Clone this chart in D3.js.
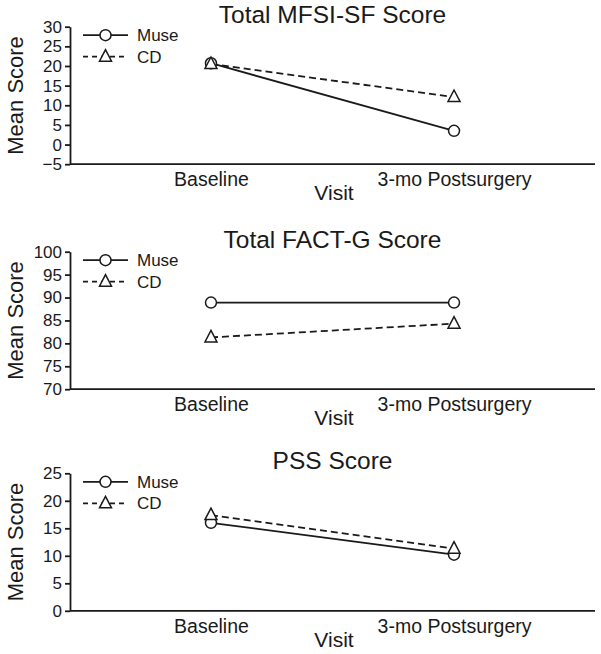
<!DOCTYPE html>
<html>
<head>
<meta charset="utf-8">
<script src="https://cdn.jsdelivr.net/npm/d3@7"></script>
<style>
	body { margin: 0; background: #fff; }
	svg text { font-family: 'Liberation Sans', Arial, sans-serif; fill: #1a1a1a; }
	.domain, .tick line { stroke: #1a1a1a; stroke-width: 1.8; }
</style>
</head>
<body>
<svg id="chart"></svg>
<script>
const visits = ['Baseline', '3-mo Postsurgery']
const seriesNames = ['Muse', 'CD']

const mfsiMuse = [20.7, 3.5]
const mfsiCD = [20.5, 12.1]
const mfsiTicks = [-5, 0, 5, 10, 15, 20, 25, 30]

const factMuse = [88.9, 88.9]
const factCD = [81.3, 84.3]
const factTicks = [70, 75, 80, 85, 90, 95, 100]

const pssMuse = [16.0, 10.2]
const pssCD = [17.4, 11.3]
const pssTicks = [0, 5, 10, 15, 20, 25]

const panels = [
	{ title: 'Total MFSI-SF Score', muse: mfsiMuse, cd: mfsiCD, ticks: mfsiTicks, top: 26.7 },
	{ title: 'Total FACT-G Score', muse: factMuse, cd: factCD, ticks: factTicks, top: 251.7 },
	{ title: 'PSS Score', muse: pssMuse, cd: pssCD, ticks: pssTicks, top: 473.3 }
]

const width = 601
const height = 654
const plotH = 137.5
const margin = { left: 70, right: 6 }
const dash = '7,4'

const svg = d3.select('#chart').attr('width', width).attr('height', height)

const xScale = d3
	.scalePoint()
	.domain(visits)
	.range([margin.left, width - margin.right])
	.padding(0.58)

// triangle marker centred on the point
const tri = 'M0,-7 L6,4.5 L-6,4.5 Z'

function drawMarker(g, type, x, y) {
	if (type === 'Muse') {
		g.append('circle')
			.attr('cx', x)
			.attr('cy', y)
			.attr('r', 5.5)
			.attr('fill', '#fff')
			.attr('stroke', '#1a1a1a')
			.attr('stroke-width', 1.5)
	} else {
		g.append('path')
			.attr('d', tri)
			.attr('transform', `translate(${x},${y})`)
			.attr('fill', '#fff')
			.attr('stroke', '#1a1a1a')
			.attr('stroke-width', 1.5)
	}
}

panels.forEach(p => {
	const g = svg.append('g')
	const yScale = d3
		.scaleLinear()
		.domain(d3.extent(p.ticks))
		.range([p.top + plotH, p.top])

	// y axis
	g.append('g')
		.attr('transform', `translate(${margin.left},0)`)
		.call(d3.axisLeft(yScale).tickValues(p.ticks).tickSize(5).tickSizeOuter(0).tickPadding(3))
		.call(a => a.selectAll('text').style('font-size', '17px'))

	// x axis
	g.append('g')
		.attr('transform', `translate(0,${p.top + plotH})`)
		.call(d3.axisBottom(xScale).tickSize(0).tickSizeOuter(0))
		.call(a => a.select('.domain').attr('d', `M${margin.left},0H${width - margin.right}`))
		.call(a =>
			a.selectAll('text')
				.attr('y', 22)
				.attr('dy', null)
				.style('font-size', '19.5px')
		)

	g.append('text')
		.attr('x', (margin.left + width - margin.right) / 2)
		.attr('y', p.top - 4)
		.attr('text-anchor', 'middle')
		.style('font-size', '24.5px')
		.text(p.title)

	g.append('text')
		.attr('x', 334)
		.attr('y', p.top + plotH + 36)
		.attr('text-anchor', 'middle')
		.style('font-size', '21px')
		.text('Visit')

	g.append('text')
		.attr('transform', `translate(23,${p.top + plotH / 2}) rotate(-90)`)
		.attr('text-anchor', 'middle')
		.style('font-size', '22px')
		.text('Mean Score')

	const line = d3
		.line()
		.x((d, i) => xScale(visits[i]))
		.y(d => yScale(d))

	g.append('path')
		.datum(p.muse)
		.attr('fill', 'none')
		.attr('stroke', '#1a1a1a')
		.attr('stroke-width', 1.8)
		.attr('d', line)

	g.append('path')
		.datum(p.cd)
		.attr('fill', 'none')
		.attr('stroke', '#1a1a1a')
		.attr('stroke-width', 1.8)
		.attr('stroke-dasharray', dash)
		.attr('d', line)

	p.muse.forEach((v, i) => drawMarker(g, 'Muse', xScale(visits[i]), yScale(v)))
	p.cd.forEach((v, i) => drawMarker(g, 'CD', xScale(visits[i]), yScale(v)))

	// legend
	seriesNames.forEach((name, i) => {
		const ly = p.top + 8.5 + i * 21.5
		g.append('line')
			.attr('x1', 83)
			.attr('x2', 128)
			.attr('y1', ly)
			.attr('y2', ly)
			.attr('stroke', '#1a1a1a')
			.attr('stroke-width', 1.8)
			.attr('stroke-dasharray', name === 'CD' ? '5,4' : null)
		drawMarker(g, name, 105.5, ly)
		g.append('text')
			.attr('x', 137)
			.attr('y', ly)
			.attr('dy', '0.35em')
			.style('font-size', '17px')
			.text(name)
	})
})
</script>
</body>
</html>
